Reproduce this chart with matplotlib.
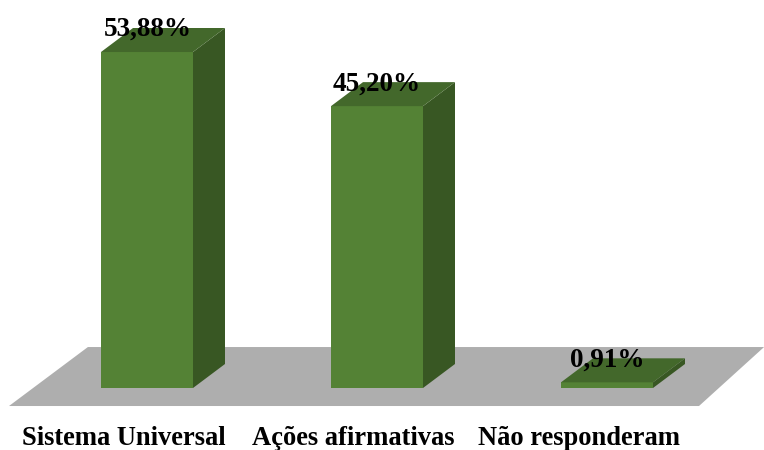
import matplotlib
matplotlib.use("Agg")
import matplotlib.pyplot as plt
from matplotlib.patches import Polygon

categorias = ["Sistema Universal", "Ações afirmativas", "Não responderam"]
valores = [53.88, 45.20, 0.91]
rotulos = ["53,88%", "45,20%", "0,91%"]

plt.rcParams["font.family"] = ["Liberation Serif", "DejaVu Serif"]

fig = plt.figure(figsize=(7.64, 4.5), dpi=100)
ax = fig.add_axes([0, 0, 1, 1])
# one unit in x = 230 px, one percent = 6.236 px
ax.set_xlim(-147 / 230, 617 / 230)
ax.set_ylim(-62 / 6.236, 388 / 6.236)
ax.axis("off")

larg = 0.4
dx = 32 / 230
dy = 24 / 6.236

# piano grigio sotto le barre
piso = [(-0.60, -2.89), (2.400, -2.89), (2.683, 6.57), (-0.257, 6.57)]
ax.add_patch(Polygon(piso, closed=True, fc="#aeaeae", ec="none", zorder=1))

# spostamento dei nomi e dei valori rispetto alla barra
sposta = [-0.10, -0.102, -0.12]
sposta_val = [0.005, -0.003, 0.0]

x = list(range(len(valores)))
ax.bar(x, valores, width=larg, color="#548235", zorder=3)
for i, v in enumerate(valores):
    x0 = i - larg / 2
    x1 = i + larg / 2
    lato = [(x1, 0), (x1 + dx, dy), (x1 + dx, v + dy), (x1, v)]
    cima = [(x0, v), (x1, v), (x1 + dx, v + dy), (x0 + dx, v + dy)]
    ax.add_patch(Polygon(lato, closed=True, fc="#385723", ec="none", zorder=3))
    ax.add_patch(Polygon(cima, closed=True, fc="#43682b", ec="none", zorder=3))
    ax.text(i + sposta_val[i], v + 3.6, rotulos[i], ha="center", va="center",
            fontsize=19.5, fontweight="bold", color="black", zorder=4)
    ax.text(i + sposta[i], -8.08, categorias[i], ha="center", va="center",
            fontsize=19.1, fontweight="bold", color="black", zorder=4)

fig.savefig("out.png", dpi=100, facecolor="white")
